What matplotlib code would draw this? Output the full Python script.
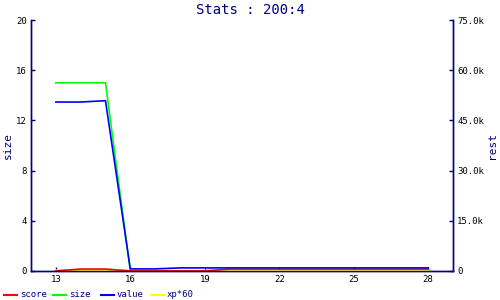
import matplotlib
matplotlib.use("Agg")
import matplotlib.pyplot as plt
from matplotlib.lines import Line2D
from matplotlib.ticker import FuncFormatter

# x positions (level / step)
steps = [13, 14, 15, 16, 17, 18, 19, 20, 21, 22, 23, 24, 25, 26, 27, 28]

# left axis
size = [15, 15, 15, 0, 0, 0, 0, 0, 0, 0, 0, 0, 0, 0, 0, 0]

# right axis (rest)
value = [50500, 50500, 50900, 600, 600, 900, 900, 900, 900, 900, 900, 900, 900, 900, 900, 900]
score = [0, 550, 550, 0, 0, 0, 0, 550, 550, 550, 550, 550, 550, 550, 550, 550]
xp60 = [250, 250, 250, 150, 150, 150, 150, 150, 150, 150, 150, 150, 150, 150, 150, 150]

navy = "#000080"
font = "DejaVu Sans Mono"

fig = plt.figure(figsize=(5, 3), dpi=100)
ax = fig.add_axes([0.062, 0.097, 0.844, 0.836])
ax2 = ax.twinx()

ax2.plot(steps, xp60, color="#ffff00", lw=1.2)
ax2.plot(steps, score, color="#ff0000", lw=1.2)
ax.plot(steps, size, color="#00ff00", lw=1.2)
ax2.plot(steps, value, color="#0000ff", lw=1.2)
ax2.set_zorder(ax.get_zorder() + 1)
ax2.patch.set_visible(False)

ax.set_xlim(12, 29)
ax.set_ylim(0, 20)
ax2.set_ylim(0, 75000)
ax.set_xticks([13, 16, 19, 22, 25, 28])
ax.set_yticks([0, 4, 8, 12, 16, 20])
ax2.set_yticks([0, 15000, 30000, 45000, 60000, 75000])
ax2.yaxis.set_major_formatter(FuncFormatter(lambda v, p: "0" if v == 0 else f"{v/1000:.1f}k"))

for a in (ax, ax2):
    for s in a.spines.values():
        s.set_color(navy)
        s.set_linewidth(1)
    a.spines["top"].set_visible(False)
    a.tick_params(direction="in", colors=navy, labelcolor="black", length=3, width=1,
                  labelsize=6.5, pad=3)
    for lab in a.get_xticklabels() + a.get_yticklabels():
        lab.set_family(font)

ax.set_ylabel("size", color=navy, fontsize=8, family=font, labelpad=2)
ax2.set_ylabel("rest", color=navy, fontsize=8, family=font, labelpad=2)
fig.text(0.5, 0.965, "Stats : 200:4", color=navy, fontsize=10, family=font,
         ha="center", va="center")

# legend along the bottom
names = ["score", "size", "value", "xp*60"]
colors = ["#ff0000", "#00ff00", "#0000ff", "#ffff00"]
xs = [4, 53, 101, 151]
for name, c, x in zip(names, colors, xs):
    fig.add_artist(Line2D([x / 500, (x + 13) / 500], [0.017, 0.017], color=c, lw=1.5))
    fig.text((x + 16) / 500, 0.017, name, color=navy, fontsize=6.5, family=font, va="center")

fig.savefig("out.png", dpi=100)
